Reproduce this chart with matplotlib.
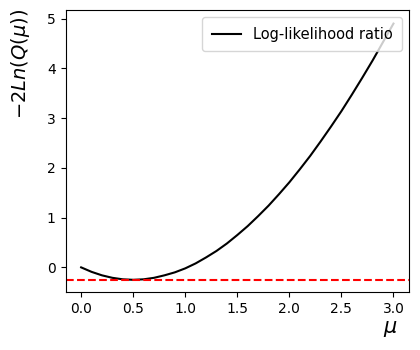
import matplotlib

matplotlib.use("Agg")
import matplotlib.pyplot as plt
import numpy as np

# values
mu = [0.0, 0.1, 0.2, 0.3, 0.4, 0.5, 0.6, 0.7, 0.8, 0.9, 1.0,
      1.1, 1.2, 1.3, 1.4, 1.5, 1.6, 1.7, 1.8, 1.9, 2.0,
      2.1, 2.2, 2.3, 2.4, 2.5, 2.6, 2.7, 2.8, 2.9, 3.0]
llr = [0.00, -0.09, -0.16, -0.21, -0.24, -0.25, -0.24, -0.21, -0.16, -0.10, -0.02,
       0.08, 0.20, 0.33, 0.48, 0.65, 0.83, 1.03, 1.24, 1.47, 1.71,
       1.97, 2.24, 2.53, 2.83, 3.14, 3.47, 3.81, 4.16, 4.53, 4.90]
llr_min = -0.25

fig = plt.figure(figsize=(4.2, 3.5), dpi=100)
ax = fig.add_axes([0.156, 0.165, 0.818, 0.806])

ax.plot(mu, llr, color="black", label="Log-likelihood ratio")
ax.axhline(llr_min, color="red", linestyle="--")

ax.set_ylim(-0.5, 5.17)

# axis labels, placed by hand like the reference
ax.set_xlabel(r"$\mu$", fontsize=15)
ax.xaxis.set_label_coords(0.945, -0.095)
ax.set_ylabel(r"$-2Ln(Q(\mu))$", fontsize=14)
ax.yaxis.set_label_coords(-0.097, 0.809)

ax.legend(loc="upper right", fontsize=10.5, borderpad=0.65)

fig.savefig("out.png", dpi=100)
